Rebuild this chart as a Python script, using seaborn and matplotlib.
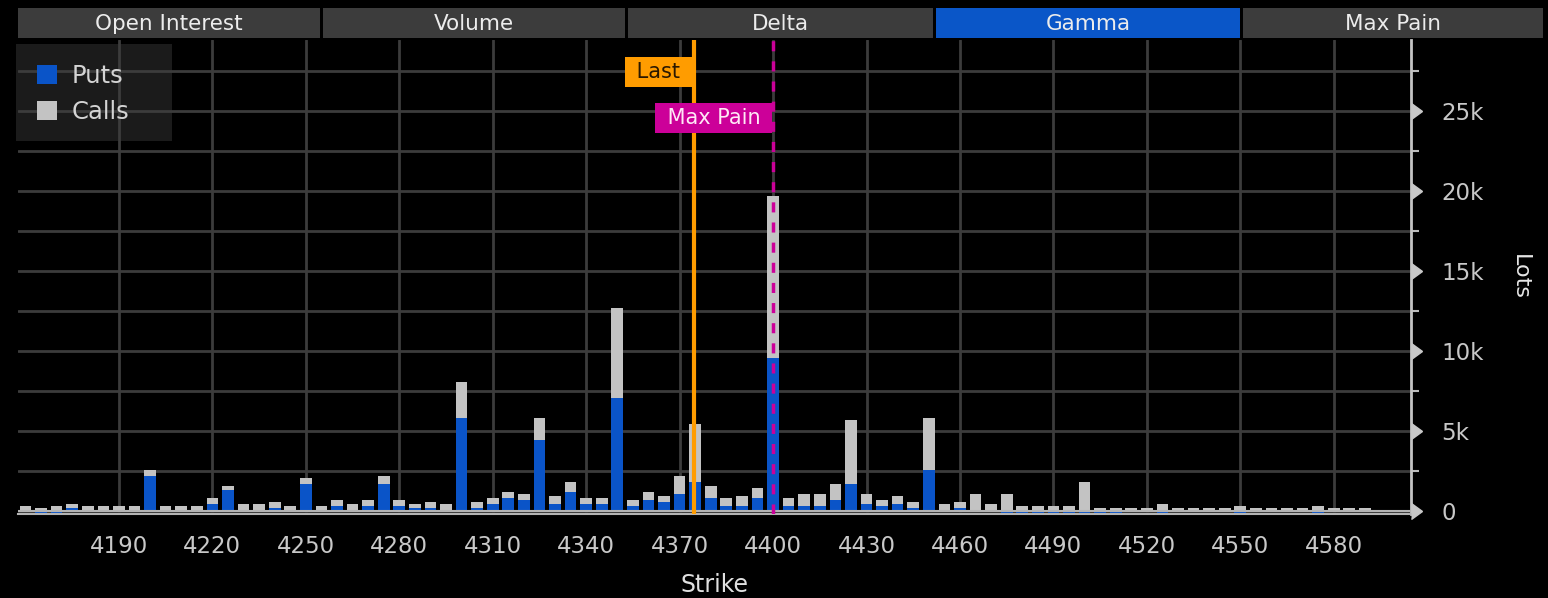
import numpy as np
import pandas as pd
import matplotlib
matplotlib.use("Agg")
import matplotlib.pyplot as plt
import seaborn as sns
from matplotlib.patches import Patch, Rectangle
from matplotlib.ticker import FixedLocator

# ---------------- data ----------------
strikes = list(range(4160, 4595, 5))
puts = [0, -150, -150, 200, 0, 0, 0, 0, 2200, 0,
        0, 0, 460, 1330, 0, 0, 200, 0, 1690, 0,
        330, 0, 330, 1690, 330, 200, 200, 0, 5810, 200,
        440, 810, 690, 4440, 440, 1190, 440, 440, 7060, 310,
        690, 560, 1060, 1810, 810, 310, 310, 810, 9560, 310,
        310, 310, 690, 1690, 440, 310, 440, 190, 2560, 0,
        190, 0, 0, -150, -150, -150, -150, -150, -150, -150,
        -150, 0, 0, -150, 0, 0, 0, 0, -150, 0,
        0, 0, 0, -150, 0, 0, 0]
calls = [300, 170, 300, 240, 300, 300, 300, 300, 360, 300,
         300, 300, 350, 230, 460, 460, 360, 300, 350, 300,
         360, 440, 360, 500, 360, 240, 360, 440, 2250, 360,
         370, 380, 370, 1370, 500, 620, 370, 370, 5630, 380,
         500, 380, 1130, 3630, 750, 500, 630, 630, 10130, 500,
         750, 750, 1000, 4000, 620, 380, 500, 370, 3250, 440,
         370, 1060, 440, 1060, 310, 310, 310, 310, 1810, 190,
         190, 190, 170, 440, 170, 170, 170, 170, 310, 170,
         170, 170, 170, 310, 170, 170, 170]
x_ticks = [4190, 4220, 4250, 4280, 4310, 4340, 4370, 4400, 4430, 4460,
           4490, 4520, 4550, 4580]
y_ticks = [0, 5000, 10000, 15000, 20000, 25000]
y_tick_labels = ["0", "5k", "10k", "15k", "20k", "25k"]
y_minor = [2500, 7500, 12500, 17500, 22500, 27500]
tabs = ["Open Interest", "Volume", "Delta", "Gamma", "Max Pain"]
active_tab = "Gamma"
last_price = 4374.6
max_pain = 4400

BLUE = "#0a54c8"
GRAY = "#c3c3c3"
GRID = "#3c3c3c"
TXT = "#c8c8c8"

df = pd.DataFrame({"strike": strikes, "puts": puts, "calls": calls})
df["total"] = df["puts"].clip(lower=0) + df["calls"]

sns.set_style("dark")
plt.rcParams["font.family"] = ["DejaVu Sans"]

W, H = 1548, 598
fig = plt.figure(figsize=(W / 100, H / 100), dpi=100, facecolor="black")
ax = fig.add_axes([18 / W, 1 - 514 / H, (1411 - 18) / W, (514 - 40) / H])
ax.set_facecolor("black")
ax.set_axisbelow(True)

sns.barplot(data=df, x="strike", y="total", native_scale=True, width=0.75,
            color=GRAY, saturation=1, errorbar=None, linewidth=0, ax=ax, zorder=2)
sns.barplot(data=df, x="strike", y="puts", native_scale=True, width=0.75,
            color=BLUE, saturation=1, errorbar=None, linewidth=0, ax=ax, zorder=2)

ax.set_xlim(4157.6, 4604.8)
ax.set_ylim(-190, 29440)

# ticks
ax.set_xticks(x_ticks)
ax.set_xticklabels([str(t) for t in x_ticks])
ax.xaxis.set_minor_locator(FixedLocator(strikes))
ax.tick_params(axis="x", which="both", length=6, width=1.5, color="#bdbdbd",
               direction="out", labelsize=16.5, labelcolor=TXT, pad=9)
ax.yaxis.tick_right()
ax.set_yticks(y_ticks)
ax.set_yticklabels(y_tick_labels)
ax.yaxis.set_minor_locator(FixedLocator(y_minor))
ax.tick_params(axis="y", which="major", length=0, pad=22, labelsize=16.5,
               labelcolor=TXT)
ax.tick_params(axis="y", which="minor", length=6, width=1.5, color="#bdbdbd",
               direction="out")
ax.plot(np.ones(len(y_ticks)), y_ticks, ls="none", marker=9, ms=11,
        color="#c8c8c8", transform=ax.get_yaxis_transform(), clip_on=False,
        zorder=5)

# grid
ax.grid(False)
ax.grid(axis="x", which="major", color=GRID, lw=2)
ax.grid(axis="y", which="both", color=GRID, lw=2)

for s in ["left", "top"]:
    ax.spines[s].set_visible(False)
ax.spines["right"].set_color("#c4c4c4")
ax.spines["right"].set_linewidth(2)
ax.spines["bottom"].set_color("#b4b4b4")
ax.spines["bottom"].set_linewidth(1.5)
ax.axhline(0, color="#b4b4b4", lw=1.5, zorder=3)

# reference lines
ax.axvline(last_price, color="#ff9c00", lw=3, zorder=4)
ax.axvline(max_pain, color="#cc0099", lw=2.5, ls=(0, (2.9, 2.9)), zorder=4)

pad_px = 0.25 * 15 * 100 / 72
ax.annotate(" Last ", xy=(last_price, 0.9325), xycoords=("data", "axes fraction"),
            xytext=(-pad_px - 2, 0), textcoords="offset pixels", ha="right",
            va="center", fontsize=15, color="#2a1800",
            bbox=dict(boxstyle="square,pad=0.25", fc="#ff9c00", ec="none"),
            zorder=6)
ax.annotate(" Max Pain ", xy=(max_pain, 0.8354), xycoords=("data", "axes fraction"),
            xytext=(-pad_px - 1, 0), textcoords="offset pixels", ha="right",
            va="center", fontsize=15, color="#ffe8f6",
            bbox=dict(boxstyle="square,pad=0.25", fc="#cc0099", ec="none"),
            zorder=6)

# axis labels
ax.set_xlabel("Strike", fontsize=17, color="#e0e0e0")
ax.xaxis.set_label_coords(0.5, (514 - 585) / 474)
ax.xaxis.label.set_va("center")
ax.set_ylabel("Lots", fontsize=16, color="#e6e6e6", rotation=270)
ax.yaxis.set_label_position("right")
ax.yaxis.set_label_coords((1520 - 18) / 1393, 0.5)
ax.yaxis.label.set_va("center")
ax.yaxis.label.set_ha("center")

# legend
ax.add_patch(Rectangle((16 / W, 1 - 141 / H), 156 / W, 97 / H,
                       transform=fig.transFigure, fc="#1b1b1b", ec="none",
                       zorder=0.2, clip_on=False))
handles = [Patch(facecolor=BLUE, edgecolor="none", linewidth=0),
           Patch(facecolor=GRAY, edgecolor="none", linewidth=0)]
leg = ax.legend(handles, ["Puts", "Calls"], loc="upper left",
                bbox_to_anchor=(37 / W, 1 - 64 / H), bbox_transform=fig.transFigure,
                frameon=False, fontsize=17.5, labelcolor="#d4d4d4",
                handlelength=0.82, handleheight=0.82, handletextpad=0.6,
                labelspacing=0.5, borderpad=0, borderaxespad=0)

# tabs
tab_ax = fig.add_axes([0, 1 - 38 / H, 1, 30 / H])
tab_ax.set_xlim(0, W)
tab_ax.set_ylim(0, 1)
tab_ax.axis("off")
edges = [18, 323, 628, 936, 1243, 1546]
for i, name in enumerate(tabs):
    x0, x1 = edges[i], edges[i + 1] - 3
    fc = "#0a56c8" if name == active_tab else "#3c3c3c"
    tab_ax.add_patch(Rectangle((x0, 0), x1 - x0, 1, fc=fc, ec="none"))
    tab_ax.text((x0 + x1) / 2, 0.48, name, ha="center", va="center",
                fontsize=15.5, color="#ececec")

fig.savefig("out.png", dpi=100, facecolor="black")
